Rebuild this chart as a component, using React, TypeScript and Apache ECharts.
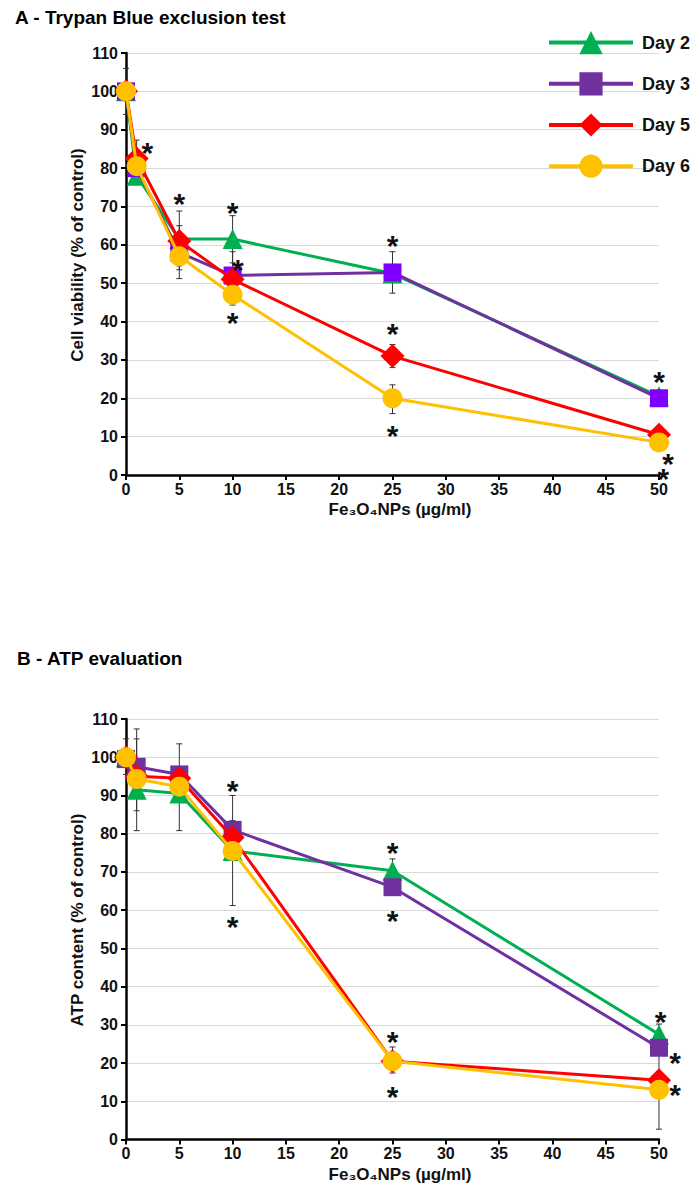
import React, { useEffect, useRef } from 'react';
import * as echarts from 'echarts';

const doses = [0, 1, 5, 10, 25, 50];
const dayNames = ['Day 2', 'Day 3', 'Day 5', 'Day 6'];

// Panel A – Trypan Blue exclusion test (% of control)
const trypanDay2 = [100, 78, 61.5, 61.5, 52.5, 20.5];
const trypanDay3 = [100, 80, 58, 52, 52.8, 20];
const trypanDay5 = [100, 82.5, 61, 51, 31, 10.5];
const trypanDay6 = [100, 80.5, 57, 47, 20, 8.5];

// Panel B – ATP content (% of control)
const atpDay2 = [100, 91.5, 90.5, 75.5, 70.3, 27.5];
const atpDay3 = [99.5, 97.5, 95.5, 81, 66, 24];
const atpDay5 = [100, 95, 94.5, 79, 20.5, 15.5];
const atpDay6 = [100, 94.3, 92.3, 75.5, 20.5, 13];

// error bars: [dose, low, high]
const trypanErrors = [
  [0, 94, 106], [1, 77.7, 87.3], [5, 53.5, 68.8], [5, 51.2, 62.8], [5, 54.5, 65],
  [10, 55.3, 67.6], [10, 52, 58.2], [10, 44.3, 49.7], [25, 47.4, 58.2], [25, 28, 34],
  [25, 16, 23.5], [50, 18.5, 21.5], [50, 8.5, 12.5],
];
const atpErrors = [
  [0, 95.5, 104.8], [1, 80.8, 107.4], [1, 86, 104.8], [5, 80.8, 103.5],
  [10, 61.2, 90], [10, 75, 83.4], [25, 68, 73.4], [25, 17.4, 24.2],
  [50, 25, 30.2], [50, 2.7, 23.3],
];

// significance asterisks: [dose, value]
const trypanStars = [
  [2, 86], [5, 72.5], [10, 70.2], [10.5, 55.3], [10, 41.5], [25, 61.7],
  [25, 38.8], [25, 12.2], [50, 26.1], [50.85, 4.8], [50.4, 1],
];
const atpStars = [
  [10, 93.1], [10, 57.6], [25, 76.8], [25, 59], [25, 27.5], [25, 13.1],
  [50.15, 32.6], [51.5, 21.9], [51.5, 13.7],
];

const xTicks = { min: 0, max: 50, interval: 5 };
const yTicks = { min: 0, max: 110, interval: 10 };

const FONT = '"Liberation Sans", Arial, sans-serif';
const GREEN = '#00B050';
const PURPLE = '#7030A0';
const RED = '#FF0000';
const YELLOW = '#FFC000';

const pairs = (vals: number[]) => doses.map((d, i) => [d, vals[i]]);

export default function App() {
  const ref = useRef<HTMLDivElement>(null);
  useEffect(() => {
    if (!ref.current) return;
    const chart = echarts.init(ref.current, null, { renderer: 'svg' });

    const axisLabel = { fontFamily: FONT, fontWeight: 'bold' as const, fontSize: 16, color: '#111' };
    const mkX = (gi: number) => ({
      type: 'value', gridIndex: gi, ...xTicks,
      axisLine: { show: true, lineStyle: { color: '#000', width: 2.5 } },
      axisTick: { show: true, length: 5, lineStyle: { color: '#000', width: 2 } },
      axisLabel: { ...axisLabel, margin: 6 },
      splitLine: { show: false },
    });
    const mkY = (gi: number) => ({
      type: 'value', gridIndex: gi, ...yTicks,
      axisLine: { show: true, lineStyle: { color: '#000', width: 2.5 } },
      axisTick: { show: true, length: 5, lineStyle: { color: '#000', width: 2 } },
      axisLabel: { ...axisLabel, margin: 8 },
      splitLine: { show: true, lineStyle: { color: '#D9D9D9', width: 1 } },
    });

    const lineSeries = (gi: number, name: string, vals: number[], color: string, symbol: string, size: number, markerColor?: string, z = 3) => ({
      type: 'line', name, xAxisIndex: gi, yAxisIndex: gi,
      data: pairs(vals), symbol, symbolSize: size, showSymbol: true,
      lineStyle: { color, width: 3 },
      itemStyle: { color: markerColor || color },
      z,
    });

    const errSeries = (gi: number, data: number[][]) => ({
      type: 'custom', xAxisIndex: gi, yAxisIndex: gi, data, z: 2, silent: true,
      encode: { x: 0, y: [1, 2] },
      renderItem: (_p: any, api: any) => {
        const x = api.value(0);
        const lo = api.coord([x, api.value(1)]);
        const hi = api.coord([x, api.value(2)]);
        const c = 3;
        const st = { stroke: '#333', lineWidth: 1 };
        return {
          type: 'group',
          children: [
            { type: 'line', shape: { x1: lo[0], y1: lo[1], x2: hi[0], y2: hi[1] }, style: st },
            { type: 'line', shape: { x1: lo[0] - c, y1: lo[1], x2: lo[0] + c, y2: lo[1] }, style: st },
            { type: 'line', shape: { x1: hi[0] - c, y1: hi[1], x2: hi[0] + c, y2: hi[1] }, style: st },
          ],
        };
      },
    });

    const starSeries = (gi: number, data: number[][]) => ({
      type: 'custom', xAxisIndex: gi, yAxisIndex: gi, data, z: 10, silent: true,
      encode: { x: 0, y: 1 },
      renderItem: (_p: any, api: any) => {
        const p = api.coord([api.value(0), api.value(1)]);
        return {
          type: 'text', x: p[0], y: p[1] + 7,
          style: { text: '*', fontSize: 30, lineHeight: 14, fontWeight: 'bold', fontFamily: FONT, fill: '#111', align: 'center', verticalAlign: 'middle' },
        };
      },
    });

    const titleStyle = (t: string) => ({ text: t, fontFamily: FONT, fontWeight: 'bold', fontSize: 19, fill: '#000', verticalAlign: 'middle' });
    const axTitle = (t: string, size = 17) => ({ text: t, fontFamily: FONT, fontWeight: 'bold', fontSize: size, fill: '#111', align: 'center', verticalAlign: 'middle' });

    chart.setOption({
      animation: false,
      backgroundColor: '#fff',
      grid: [
        { left: 126, right: 36, top: 53, height: 422 },
        { left: 126, right: 36, top: 719, height: 420.5 },
      ],
      xAxis: [mkX(0), mkX(1)],
      yAxis: [mkY(0), mkY(1)],
      legend: {
        orient: 'vertical', left: 547, top: 31, padding: 0, itemWidth: 84, itemHeight: 29, itemGap: 18,
        textStyle: { fontFamily: FONT, fontWeight: 'bold', fontSize: 18, color: '#111', padding: [0, 0, 0, 4] },
        lineStyle: { width: 4 },
        data: [
          { name: 'Day 2' },
          { name: 'Day 3', itemStyle: { color: PURPLE } },
          { name: 'Day 5' },
          { name: 'Day 6' },
        ],
      },
      graphic: [
        { type: 'text', left: 15, top: 8, style: titleStyle('A - Trypan Blue exclusion test') },
        { type: 'text', left: 17, top: 649, style: titleStyle('B - ATP evaluation') },
        { type: 'text', x: 77, y: 255, rotation: Math.PI / 2, style: axTitle('Cell viability (% of control)') },
        { type: 'text', x: 400, y: 509, style: axTitle('Fe\u2083O\u2084NPs (\u00b5g/ml)') },
        { type: 'text', x: 77, y: 920, rotation: Math.PI / 2, style: axTitle('ATP content (% of control)') },
        { type: 'text', x: 400, y: 1174, style: axTitle('Fe\u2083O\u2084NPs (\u00b5g/ml)') },
      ],
      series: [
        errSeries(0, trypanErrors),
        errSeries(1, atpErrors),
        lineSeries(0, dayNames[0], trypanDay2, GREEN, 'triangle', 20, undefined, 3),
        lineSeries(0, dayNames[1], trypanDay3, PURPLE, 'rect', 18, '#7F00FF', 4),
        lineSeries(0, dayNames[2], trypanDay5, RED, 'diamond', 24, undefined, 5),
        lineSeries(0, dayNames[3], trypanDay6, YELLOW, 'circle', 20, undefined, 6),
        lineSeries(1, dayNames[0], atpDay2, GREEN, 'triangle', 20, undefined, 3),
        lineSeries(1, dayNames[1], atpDay3, PURPLE, 'rect', 18, undefined, 4),
        lineSeries(1, dayNames[2], atpDay5, RED, 'diamond', 24, undefined, 5),
        lineSeries(1, dayNames[3], atpDay6, YELLOW, 'circle', 20, undefined, 6),
        starSeries(0, trypanStars),
        starSeries(1, atpStars),
      ],
    });
    return () => chart.dispose();
  }, []);
  return <div ref={ref} style={{ position: 'absolute', left: 0, top: 0, width: 695, height: 1186 }} />;
}
